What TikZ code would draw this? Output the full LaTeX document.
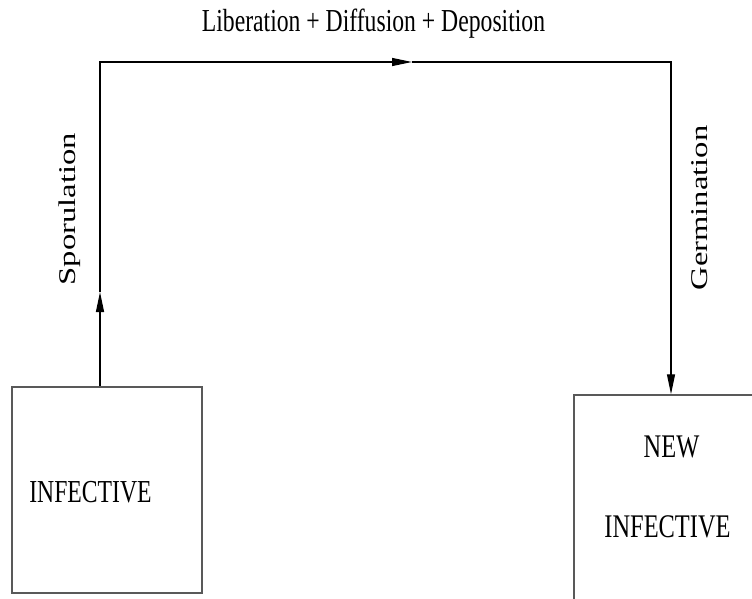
\documentclass[tikz,border=0pt]{standalone}
\usepackage{fontspec}
\setmainfont{Liberation Serif}
\usepackage{graphicx}
\usetikzlibrary{arrows.meta}
\definecolor{boxgray}{gray}{0.35}
\newcommand{\narrowtext}[1]{\scalebox{0.74}[1]{#1}}
\newcommand{\widetext}[1]{\scalebox{1.36}[1]{#1}}
\tikzset{
  stage/.style={draw=boxgray, line width=1.5pt, minimum width=190pt, inner sep=0pt},
  lbl/.style={inner sep=0pt, anchor=base, font=\fontsize{32}{38}\selectfont},
  sidelbl/.style={inner sep=0pt, anchor=base, rotate=90, font=\fontsize{24}{29}\selectfont},
  flow/.style={draw, line width=1.2pt, -{Triangle[length=20pt,width=8pt]}}
}

\begin{document}
\begin{tikzpicture}[x=1pt, y=-1pt]
\useasboundingbox (0,0) rectangle (752,599);
\clip (0,0) rectangle (752,599);
\node[stage, minimum height=206pt] (infbox) at (107,490) {};
\node[stage, minimum height=230pt] (newbox) at (669,510) {};
\node[lbl] (inf) at (90.5,502) {\narrowtext{INFECTIVE}};
\node[lbl, font=\fontsize{33}{40}\selectfont] (new) at (671.5,457) {\narrowtext{NEW}};
\node[lbl, font=\fontsize{33}{40}\selectfont] (newinf) at (667.5,537) {\narrowtext{INFECTIVE}};
\node[lbl] (travel) at (373.5,32) {\narrowtext{Liberation + Diffusion + Deposition}};
\node[sidelbl] (spor) at (75,209) {\widetext{Sporulation}};
\node[sidelbl] (germ) at (707,208) {\widetext{Germination}};
\coordinate (sp) at (100,292);
\coordinate (tl) at (100,62);
\coordinate (mid) at (412,62);
\coordinate (tr) at (671,62);
\draw[flow] (infbox.north -| sp) -- (sp);
\draw[flow] (sp) -- (tl) -- (mid);
\draw[flow] (mid) -- (tr) -- (tr |- newbox.north);
\end{tikzpicture}
\end{document}
